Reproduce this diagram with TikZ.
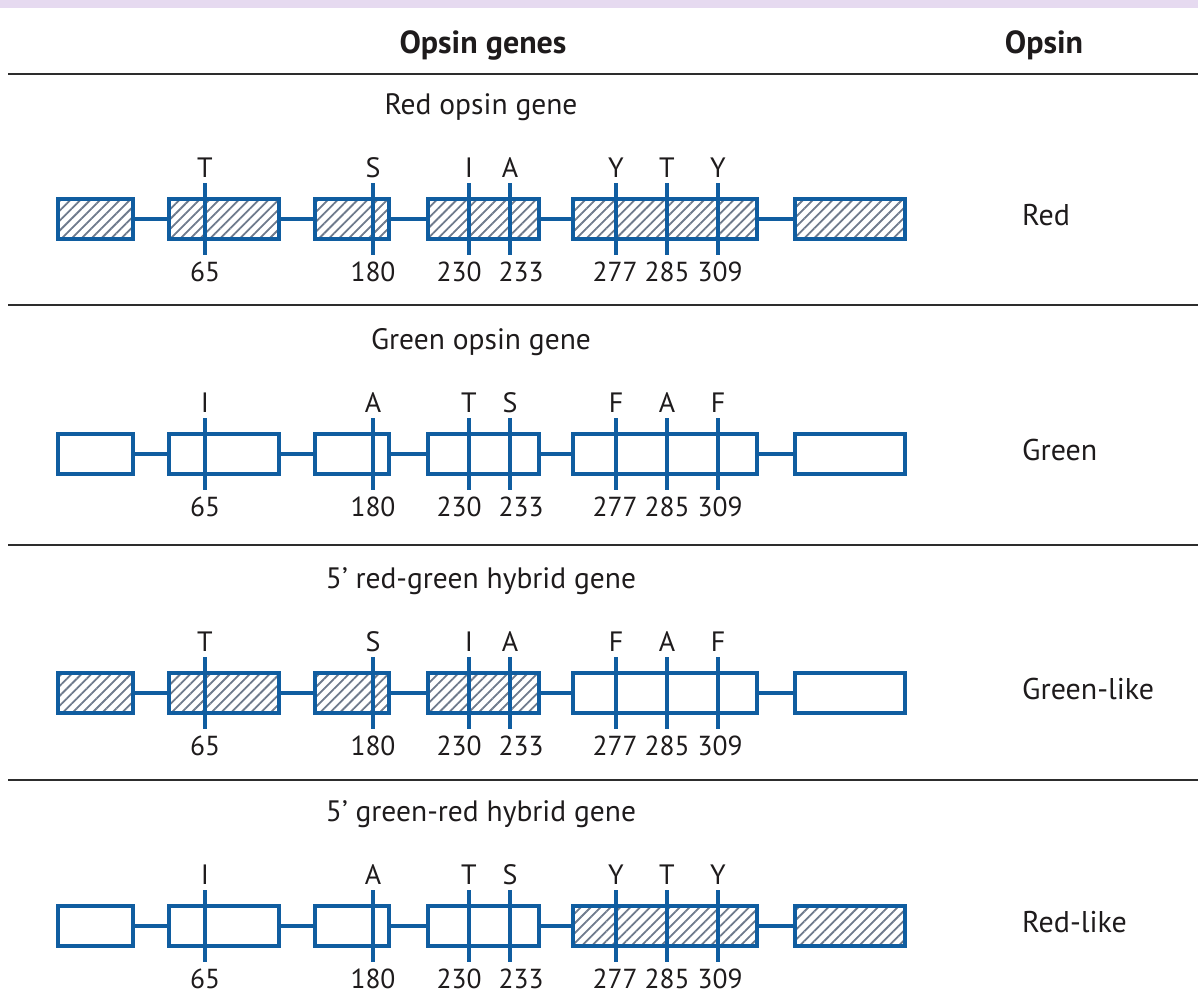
\documentclass[tikz,border=0pt]{standalone}
\usepackage{fontspec}
\setmainfont{PT Sans}
\usetikzlibrary{patterns.meta}
\definecolor{geneblue}{RGB}{16,93,160}
\definecolor{hatchgray}{RGB}{110,122,140}
\definecolor{inkgray}{RGB}{30,27,28}
\definecolor{bandlilac}{RGB}{230,218,240}
\definecolor{rulegray}{RGB}{45,45,45}
\tikzset{
  exon/.style={draw=geneblue, line width=3.8pt, fill=white, inner sep=0pt, minimum height=40pt},
  hatched/.style={pattern={Lines[angle=45,distance=7pt,line width=1.8pt]}, pattern color=hatchgray},
  clear/.style={},
  link/.style={draw=geneblue, line width=3.6pt},
  site/.style={draw=geneblue, line width=3.8pt},
  aa/.style={text=inkgray, font=\fontsize{28}{32}\selectfont, inner sep=0pt},
  posnum/.style={text=inkgray, font=\fontsize{27.5}{32}\selectfont, inner sep=0pt},
  title/.style={text=inkgray, font=\fontsize{29.5}{34}\selectfont, inner sep=0pt},
  head/.style={text=inkgray, font=\bfseries\fontsize{32}{36}\selectfont, inner sep=0pt},
  opsin/.style={text=inkgray, font=\fontsize{30}{34}\selectfont, inner sep=0pt, anchor=west},
  rowrule/.style={draw=rulegray, line width=2pt}
}
% exon box: name, left x, right x, centre y, fill style
\newcommand{\exonbox}[5]{%
  \node[exon,#5,minimum width={#3-#2}] (#1) at ({(#2+#3)/2},#4) {};}
\begin{document}
\begin{tikzpicture}[x=1pt,y=-1pt]
\useasboundingbox (0,0) rectangle (1198,1003);
% top band
\fill[bandlilac] (0,0) rectangle (1198,8);
% column headings
\node[head] (hgenes) at (483,45) {Opsin genes};
\node[head] (hopsin) at (1044,45) {Opsin};
\draw[rowrule] (8,74) -- (1198,74);
\draw[rowrule] (8,305) -- (1198,305);
\draw[rowrule] (8,545) -- (1198,545);
\draw[rowrule] (8,780) -- (1198,780);

% ---------------- gene rows ----------------
\foreach \tag/\dy/\ttl/\ops/\ha/\hb/\l/\m/\n/\o/\p/\q/\r in {
  ra/0/Red opsin gene/Red/hatched/hatched/T/S/I/A/Y/T/Y,
  rb/235/Green opsin gene/Green/clear/clear/I/A/T/S/F/A/F,
  rc/474/{5\char"2019\ red-green hybrid gene}/Green-like/hatched/clear/T/S/I/A/F/A/F,
  rd/707/{5\char"2019\ green-red hybrid gene}/Red-like/clear/hatched/I/A/T/S/Y/T/Y}{
  \begin{scope}[yshift=-\dy pt]
    \node[title] (\tag title) at (481,107) {\ttl};
    \node[opsin] (\tag opsin) at (1022,215) {\ops};
    \exonbox{\tag e1}{58}{133}{219}{\ha}
    \exonbox{\tag e2}{169}{279}{219}{\ha}
    \exonbox{\tag e3}{315}{389}{219}{\ha}
    \exonbox{\tag e4}{428}{539}{219}{\ha}
    \exonbox{\tag e5}{573}{757}{219}{\hb}
    \exonbox{\tag e6}{795}{905}{219}{\hb}
    \draw[link] (\tag e1.east) -- (\tag e2.west);
    \draw[link] (\tag e2.east) -- (\tag e3.west);
    \draw[link] (\tag e3.east) -- (\tag e4.west);
    \draw[link] (\tag e4.east) -- (\tag e5.west);
    \draw[link] (\tag e5.east) -- (\tag e6.west);
    % sites: index / tick x / number x / residue number / residue letter
    \foreach \k/\x/\nx/\num/\res in {1/205/205/65/\l, 2/373/373/180/\m, 3/469/459/230/\n,
                                     4/510/521/233/\o, 5/616/615/277/\p, 6/667/667/285/\q,
                                     7/718/720/309/\r}{
      \coordinate (\tag s\k top) at (\x,183);
      \coordinate (\tag s\k bot) at (\x,255);
      \draw[site] (\tag s\k top) -- (\tag s\k bot);
      \node[aa] (\tag a\k) at (\x,168) {\res};
      \node[posnum] (\tag n\k) at (\nx,272) {\num};
    }
  \end{scope}
}
\end{tikzpicture}
\end{document}
